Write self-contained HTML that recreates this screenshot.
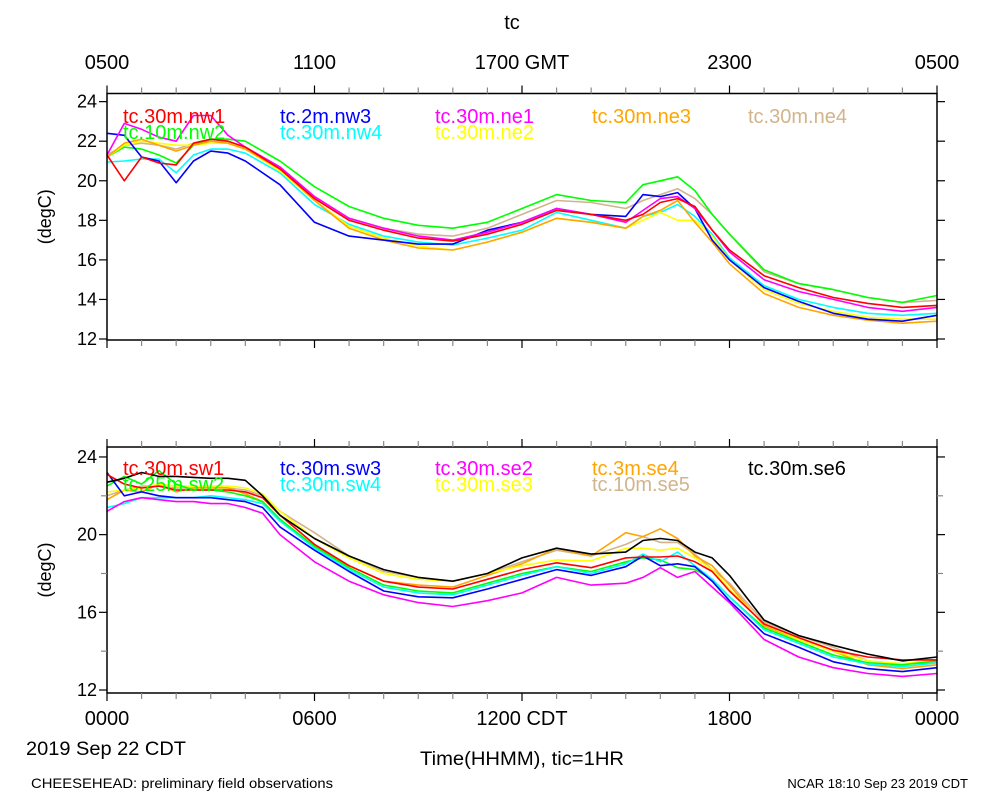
<!DOCTYPE html>
<html><head><meta charset="utf-8"><style>
body{margin:0;background:#fff;}
svg{display:block;font-family:"Liberation Sans",Arial,sans-serif;}
</style></head><body>
<svg id="chart" width="1000" height="800" viewBox="0 0 1000 800">
<text x="512" y="29" font-size="20" text-anchor="middle">tc</text>
<g id="gmt"></g>
<g id="p1"></g>
<g id="p2"></g>
<g id="cdt"></g>
<text x="26" y="755" font-size="19" textLength="160" lengthAdjust="spacingAndGlyphs">2019 Sep 22 CDT</text>
<text x="420" y="765" font-size="19" textLength="204" lengthAdjust="spacingAndGlyphs">Time(HHMM), tic=1HR</text>
<text x="31" y="788" font-size="14" textLength="302" lengthAdjust="spacingAndGlyphs">CHEESEHEAD: preliminary field observations</text>
<text x="968" y="788" font-size="13" text-anchor="end">NCAR 18:10 Sep 23 2019 CDT</text>
</svg>
<script>
const gmtLabels=["0500","1100","1700 GMT","2300","0500"];
const cdtLabels=["0000","0600","1200 CDT","1800","0000"];
const T1=[0,0.5,1,1.5,2,2.5,3,3.5,4,5,6,7,8,9,10,11,12,13,14,15,15.5,16,16.5,17,17.5,18,19,20,21,22,23,24];
const nw1=[21.3,20.0,21.2,20.9,20.8,21.9,22.1,22.0,21.7,20.6,19.1,18.0,17.5,17.1,16.95,17.3,17.8,18.5,18.3,18.0,18.3,18.9,19.1,18.7,17.5,16.5,15.2,14.6,14.1,13.8,13.6,13.7];
const nw2=[21.2,21.7,21.6,21.3,20.9,21.8,22.1,22.1,22.0,21.0,19.7,18.7,18.1,17.75,17.6,17.9,18.6,19.3,19.0,18.9,19.8,20.0,20.2,19.5,18.3,17.3,15.5,14.8,14.5,14.1,13.85,14.2];
const nw3=[22.4,22.3,21.2,21.0,19.9,21.0,21.5,21.4,21.0,19.8,17.9,17.2,17.0,16.8,16.8,17.5,17.9,18.6,18.3,18.2,19.3,19.2,19.4,18.6,17.0,16.0,14.6,13.9,13.3,13.0,12.9,13.2];
const nw4=[20.95,21.0,21.1,21.1,20.4,21.3,21.6,21.6,21.4,20.4,18.8,17.8,17.2,16.9,16.75,17.1,17.5,18.4,18.0,17.6,18.2,18.4,18.8,18.2,17.3,16.1,14.7,14.0,13.6,13.3,13.2,13.3];
const ne1=[21.3,22.9,22.6,22.2,22.0,23.3,23.3,22.3,21.7,20.7,19.2,18.1,17.6,17.2,17.0,17.4,17.9,18.6,18.3,17.9,18.5,19.1,19.2,18.6,17.5,16.4,15.0,14.4,14.0,13.6,13.4,13.6];
const ne2=[21.2,21.8,22.0,21.9,21.8,21.8,21.9,21.9,21.6,20.5,19.0,17.7,17.1,16.7,16.5,16.9,17.4,18.1,17.9,17.6,18.0,18.4,18.0,18.0,17.2,16.0,14.5,13.8,13.4,13.1,13.0,13.0];
const ne3=[21.2,21.9,22.1,21.8,21.5,21.8,22.0,21.9,21.6,20.6,19.0,17.6,17.0,16.6,16.5,16.9,17.4,18.1,17.9,17.6,18.2,18.5,19.0,17.9,16.9,15.8,14.3,13.6,13.2,12.95,12.8,12.9];
const ne4=[21.3,21.8,21.9,21.8,21.6,21.9,22.1,22.0,21.7,20.7,19.2,18.1,17.6,17.3,17.2,17.6,18.3,19.0,18.9,18.6,19.0,19.3,19.6,19.1,18.3,17.3,15.4,14.8,14.5,14.1,13.85,13.95];
const T2=[0,0.5,1,1.5,2,2.5,3,3.5,4,4.5,5,6,7,8,9,10,11,12,13,14,15,15.5,16,16.5,17,17.5,18,19,20,21,22,23,24];
const se6=[22.7,22.9,23.2,23.0,23.0,22.95,22.9,22.9,22.8,22.0,21.0,19.8,18.9,18.2,17.8,17.6,18.0,18.8,19.3,19.0,19.1,19.7,19.8,19.7,19.1,18.8,17.9,15.6,14.8,14.3,13.85,13.5,13.7];
const se2=[21.2,21.7,21.9,21.8,21.7,21.7,21.6,21.6,21.4,21.1,20.0,18.6,17.6,16.9,16.5,16.3,16.6,17.0,17.8,17.4,17.5,17.8,18.3,17.8,18.1,17.3,16.5,14.6,13.7,13.15,12.85,12.7,12.85];
const sw3=[23.2,22.0,22.2,22.0,21.9,21.9,21.9,21.8,21.7,21.4,20.4,19.2,18.1,17.1,16.8,16.75,17.2,17.7,18.2,17.9,18.35,18.9,18.4,18.5,18.35,17.6,16.6,14.9,14.2,13.45,13.1,12.95,13.15];
const sw4=[21.4,21.6,21.9,21.9,21.9,21.9,22.0,21.9,21.8,21.6,20.7,19.3,18.2,17.3,17.0,16.9,17.4,17.9,18.35,18.0,18.5,19.0,18.6,19.1,18.4,17.7,16.8,15.1,14.4,13.7,13.35,13.2,13.4];
const sw2=[22.5,23.0,22.6,23.3,22.6,22.3,22.3,22.2,22.0,21.7,20.8,19.4,18.3,17.4,17.1,17.0,17.5,18.0,18.35,18.1,18.6,18.8,18.7,18.3,18.2,17.7,16.8,15.2,14.5,13.8,13.4,13.3,13.5];
const sw1=[23.1,22.6,22.4,22.5,22.3,22.3,22.3,22.3,22.2,21.9,21.0,19.5,18.4,17.6,17.3,17.2,17.7,18.2,18.55,18.3,18.8,18.85,18.85,18.9,18.6,18.1,17.1,15.4,14.7,14.05,13.7,13.55,13.55];
const se3=[22.2,22.3,22.4,22.6,22.5,22.5,22.5,22.5,22.4,22.1,21.2,19.8,18.8,18.0,17.7,17.6,18.0,18.4,18.7,18.65,19.3,19.3,19.2,19.3,18.8,18.2,17.2,15.4,14.6,14.0,13.5,13.35,13.55];
const se4=[21.8,22.3,22.2,22.6,22.2,22.4,22.4,22.4,22.1,21.7,20.7,19.4,18.4,17.6,17.4,17.3,17.9,18.5,19.3,18.9,20.1,19.9,20.3,19.8,18.9,18.4,17.4,15.3,14.6,14.0,13.3,13.1,13.3];
const se5=[22.0,22.3,22.5,22.5,22.4,22.4,22.5,22.4,22.3,22.0,21.2,20.1,18.9,18.1,17.8,17.6,18.0,18.6,19.2,18.9,19.5,19.9,19.6,19.6,19.0,18.2,17.5,15.5,14.8,14.2,13.5,13.35,13.4];

const NS="http://www.w3.org/2000/svg";
function mk(parent,tag,attrs){const e=document.createElementNS(NS,tag);for(const k in attrs)e.setAttribute(k,attrs[k]);parent.appendChild(e);return e;}
const X0=107,X1=937;
function xs(h){return X0+h*(X1-X0)/24;}

function panel(g,top,bot,y12,pxPerDeg,labelStep,series,times,legend,legY){
  const ys=v=>y12-(v-12)*pxPerDeg;
  series.forEach(s=>{
    const pts=s.vals.map((v,i)=>xs(times[i]).toFixed(1)+","+ys(v).toFixed(1)).join(" ");
    const p=mk(g,"polyline",{points:pts,fill:"none",stroke:s.color,"stroke-width":1.6,"stroke-linejoin":"round"});
    
    
  });
  const r=mk(g,"rect",{x:X0,y:top,width:X1-X0,height:bot-top,fill:"none",stroke:"#000","stroke-width":1.5});
  
  
  for(let h=0;h<=24;h++){
    const x=xs(h),maj=h%6==0,len=maj?8:6,c=maj?"#000":"#888";
    mk(g,"line",{x1:x,x2:x,y1:top,y2:top-len,stroke:c,"stroke-width":1.2});
    mk(g,"line",{x1:x,x2:x,y1:bot,y2:bot+len,stroke:c,"stroke-width":1.2});
  }
  for(let v=12;v<=24;v+=2){
    const y=ys(v),maj=(v-12)%labelStep==0,len=maj?8:6,c=maj?"#000":"#888";
    mk(g,"line",{x1:X0,x2:X0-len,y1:y,y2:y,stroke:c,"stroke-width":1.2});
    mk(g,"line",{x1:X1,x2:X1+len,y1:y,y2:y,stroke:c,"stroke-width":1.2});
    if(maj){const t=mk(g,"text",{x:X0-10,y:y+6,"font-size":18,"text-anchor":"end"});t.textContent=v;
      
      }
  }
  const yt=mk(g,"text",{x:0,y:0,"font-size":18,"text-anchor":"middle",transform:`translate(51,${(top+bot)/2}) rotate(-90)`});
  yt.textContent="(degC)";
  
  
  legend.forEach(L=>{
    const t=mk(g,"text",{x:L[1],y:legY+L[2]*16,"font-size":20,fill:L[3]});
    t.textContent=L[0];
    
    
  });
}
const C={red:"#ff0000",green:"#00ff00",blue:"#0000ff",cyan:"#00ffff",mag:"#ff00ff",yel:"#ffff00",org:"#ffa500",tan:"#d2b48c",blk:"#000000"};
panel(document.getElementById("p1"),93.5,340,339,19.78,2,[
 {name:"ne4",vals:ne4,color:C.tan},{name:"nw2",vals:nw2,color:C.green},{name:"nw4",vals:nw4,color:C.cyan},
 {name:"ne2",vals:ne2,color:C.yel},{name:"ne3",vals:ne3,color:C.org},{name:"nw3",vals:nw3,color:C.blue},
 {name:"ne1",vals:ne1,color:C.mag},{name:"nw1",vals:nw1,color:C.red}],T1,
 [["tc.30m.nw1",123,0,C.red],["tc.2m.nw3",280,0,C.blue],["tc.30m.ne1",435,0,C.mag],["tc.30m.ne3",592,0,C.org],["tc.30m.ne4",748,0,C.tan],
  ["tc.10m.nw2",123,1,C.green],["tc.30m.nw4",280,1,C.cyan],["tc.30m.ne2",435,1,C.yel]],123);
panel(document.getElementById("p2"),447,693,690,19.42,4,[
 {name:"se5",vals:se5,color:C.tan},{name:"se4",vals:se4,color:C.org},{name:"se3",vals:se3,color:C.yel},
 {name:"sw2",vals:sw2,color:C.green},{name:"sw4",vals:sw4,color:C.cyan},{name:"sw3",vals:sw3,color:C.blue},
 {name:"se2",vals:se2,color:C.mag},{name:"sw1",vals:sw1,color:C.red},{name:"se6",vals:se6,color:C.blk}],T2,
 [["tc.30m.sw1",123,0,C.red],["tc.30m.sw3",280,0,C.blue],["tc.30m.se2",435,0,C.mag],["tc.3m.se4",592,0,C.org],["tc.30m.se6",748,0,C.blk],
  ["tc.25m.sw2",123,1,C.green],["tc.30m.sw4",280,1,C.cyan],["tc.30m.se3",435,1,C.yel],["tc.10m.se5",592,1,C.tan]],475);
const gg=document.getElementById("gmt"),cg=document.getElementById("cdt");
gmtLabels.forEach((l,i)=>{const t=mk(gg,"text",{x:xs(i*6),y:69,"font-size":20,"text-anchor":"middle"});t.textContent=l;
 
 });
cdtLabels.forEach((l,i)=>{const t=mk(cg,"text",{x:xs(i*6),y:725,"font-size":20,"text-anchor":"middle"});t.textContent=l;
 
 });
</script>
</body></html>
